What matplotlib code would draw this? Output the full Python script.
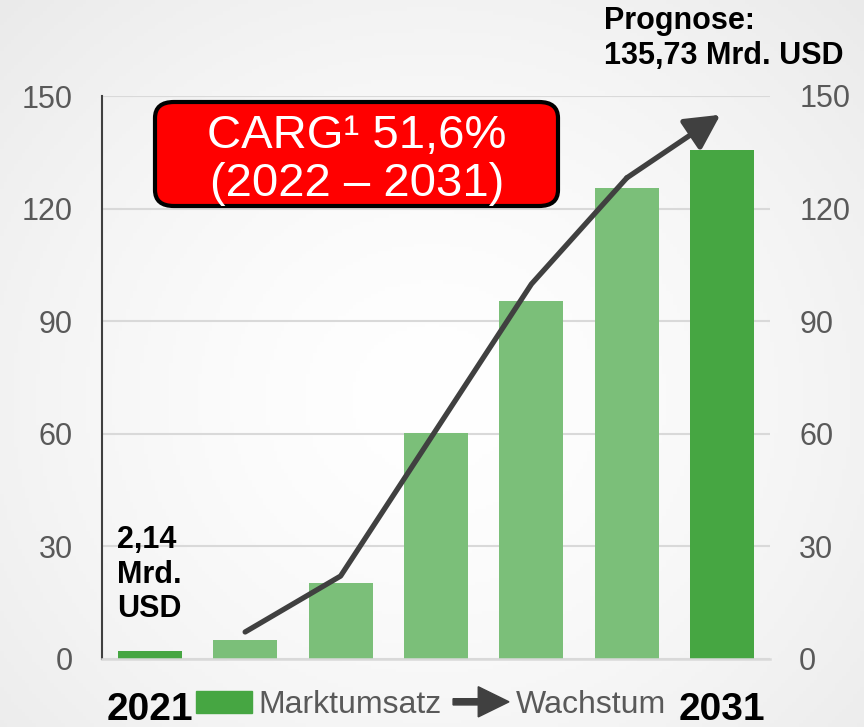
import numpy as np
import matplotlib.pyplot as plt
import matplotlib.patches as mpatches
from matplotlib.legend_handler import HandlerPatch

plt.rcParams['font.family'] = ['Liberation Sans', 'DejaVu Sans']

# Marktumsatz in Mrd. USD, 2021 bis 2031 (Balken)
jahre = ['2021', '2022', '2023', '2024', '2025', '2026', '2031']
umsatz = [2.14, 5.1, 20.2, 60.2, 95.4, 125.5, 135.73]
# Wachstumslinie (Pfeil), geschaetzt aus dem Bild
wachstum = [np.nan, 7.2, 22.1, 61.0, 99.9, 128.2, 145.0]

dunkelgruen = '#46a642'
hellgruen = '#7bbf79'
grau_text = '#595959'
grau_linie = '#404040'

W, H = 864, 727
fig = plt.figure(figsize=(W / 100, H / 100), dpi=100)

# Hintergrund mit leichtem Verlauf
bg = fig.add_axes([0, 0, 1, 1], zorder=-10)
yy, xx = np.mgrid[0:1:200j, 0:1:240j]
r = np.sqrt((xx - 0.5) ** 2 + ((yy - 0.55) * 0.9) ** 2)
grad = 1.0 - 0.09 * np.clip(r / 0.75, 0, 1) ** 1.5
bg.imshow(np.dstack([grad] * 3), extent=[0, 1, 0, 1], aspect='auto', origin='upper')
bg.axis('off')

ax = fig.add_axes([102 / W, (H - 659) / H, (770 - 102) / W, (659 - 96) / H])
ax.patch.set_alpha(0)
x = np.arange(len(jahre))
farben = [dunkelgruen] + [hellgruen] * 5 + [dunkelgruen]
ax.bar(x, umsatz, width=0.67, color=farben, zorder=2)

# Wachstumslinie mit Pfeilspitze
ax.plot(x[1:6], wachstum[1:6], color=grau_linie, lw=3.8, solid_capstyle='round', zorder=3)
ax.annotate('', xy=(x[6] - 0.02, wachstum[6]), xytext=(x[5], wachstum[5]),
            arrowprops=dict(arrowstyle='-|>,head_length=2.1,head_width=1.1',
                            color=grau_linie, lw=3.8, shrinkA=0, shrinkB=0),
            zorder=3, annotation_clip=False)

ax.set_xlim(-0.5, 6.5)
ax.set_ylim(0, 150)
ticks = [0, 30, 60, 90, 120, 150]
ax.set_yticks(ticks)
ax.grid(axis='y', color='#d9d9d9', lw=1.5, zorder=0)
ax.set_axisbelow(True)
for s in ['top', 'right']:
    ax.spines[s].set_visible(False)
ax.spines['left'].set_color(grau_linie)
ax.spines['left'].set_linewidth(1.5)
ax.spines['bottom'].set_color('#d9d9d9')
ax.spines['bottom'].set_linewidth(1.8)
ax.tick_params(axis='y', length=0, pad=21, labelsize=22, labelcolor=grau_text)

ax.set_xticks([0, 6])
ax.set_xticklabels([jahre[0], jahre[6]], fontsize=28, fontweight='bold', color='black')
ax.tick_params(axis='x', length=0, pad=24)

ax2 = ax.twinx()
ax2.set_ylim(0, 150)
ax2.set_yticks(ticks)
ax2.tick_params(axis='y', length=0, pad=21, labelsize=22, labelcolor=grau_text)
for s in ax2.spines.values():
    s.set_visible(False)

# Beschriftungen
fig.text(117 / W, 1 - 525 / H, '2,14\nMrd.\nUSD', fontsize=22, fontweight='bold',
         va='top', ha='left', linespacing=1.2)
fig.text(604 / W, 1 - 6 / H, 'Prognose:\n135,73 Mrd. USD', fontsize=22, fontweight='bold',
         va='top', ha='left', linespacing=1.2)

box = mpatches.FancyBboxPatch((155 / W, 1 - 206 / H), (558 - 155) / W, (206 - 102) / H,
                              boxstyle='round,pad=0,rounding_size=0.022',
                              transform=fig.transFigure, facecolor='#ff0000',
                              edgecolor='black', lw=3, zorder=5)
fig.add_artist(box)
fig.text(357 / W, 1 - 160 / H, 'CARG¹ 51,6%\n(2022 – 2031)', fontsize=34, color='white',
         ha='center', va='center', linespacing=1.12, zorder=6)


# Legende
class PfeilHandler(HandlerPatch):
    def create_artists(self, legend, orig_handle, xdescent, ydescent, width, height, fontsize, trans):
        p = mpatches.FancyArrow(0, 0.5 * height - ydescent, width, 0, width=height * 0.28,
                                head_width=height * 1.35, head_length=width * 0.55,
                                length_includes_head=True, color=grau_linie)
        p.set_transform(trans)
        return [p]


h1 = mpatches.Patch(color=dunkelgruen, label='Marktumsatz')
h2 = mpatches.FancyArrow(0, 0, 1, 0, color=grau_linie, label='Wachstum')
leg = fig.legend(handles=[h1, h2], handler_map={mpatches.FancyArrow: PfeilHandler()},
                 loc='center', bbox_to_anchor=(431 / W, 1 - 705 / H), ncol=2, frameon=False,
                 fontsize=23, handlelength=1.75, handletextpad=0.2, columnspacing=0.35,
                 borderaxespad=0)
for t in leg.get_texts():
    t.set_color(grau_text)

fig.savefig('out.png', dpi=100)
